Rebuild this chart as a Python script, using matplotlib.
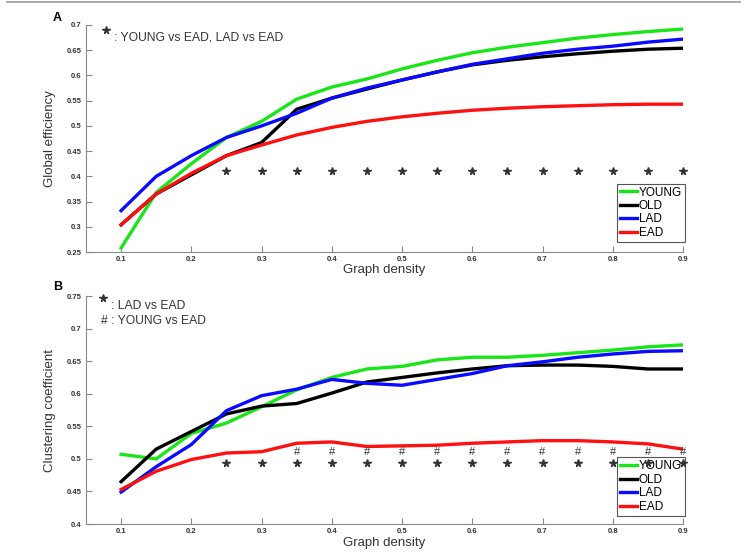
import matplotlib
matplotlib.use("Agg")
import matplotlib.pyplot as plt

plt.rcParams["font.family"] = ["Liberation Sans", "DejaVu Sans"]

density = [0.1, 0.15, 0.2, 0.25, 0.3, 0.35, 0.4, 0.45, 0.5,
           0.55, 0.6, 0.65, 0.7, 0.75, 0.8, 0.85, 0.9]
groups = ["YOUNG", "OLD", "LAD", "EAD"]
colors = ["#19e619", "black", "#0a0aff", "#ff1010"]

# panel A - global efficiency
eff_young = [0.258, 0.368, 0.425, 0.477, 0.509, 0.553, 0.577, 0.593, 0.613,
             0.630, 0.645, 0.656, 0.665, 0.674, 0.681, 0.687, 0.692]
eff_old = [0.304, 0.365, 0.403, 0.441, 0.467, 0.533, 0.555, 0.573, 0.591,
           0.607, 0.621, 0.630, 0.637, 0.643, 0.648, 0.652, 0.654]
eff_lad = [0.332, 0.400, 0.441, 0.477, 0.500, 0.525, 0.555, 0.575, 0.591,
           0.607, 0.622, 0.633, 0.644, 0.652, 0.658, 0.666, 0.672]
eff_ead = [0.304, 0.365, 0.406, 0.441, 0.462, 0.482, 0.497, 0.509, 0.518,
           0.525, 0.531, 0.535, 0.538, 0.540, 0.542, 0.543, 0.543]

# panel B - clustering coefficient
clu_young = [0.507, 0.500, 0.539, 0.555, 0.580, 0.606, 0.625, 0.638, 0.642,
             0.652, 0.656, 0.656, 0.659, 0.663, 0.667, 0.672, 0.675]
clu_old = [0.465, 0.515, 0.542, 0.569, 0.581, 0.585, 0.601, 0.618, 0.625,
           0.632, 0.638, 0.643, 0.644, 0.644, 0.642, 0.638, 0.638]
clu_lad = [0.449, 0.488, 0.522, 0.574, 0.597, 0.607, 0.622, 0.616, 0.613,
           0.622, 0.631, 0.643, 0.649, 0.656, 0.661, 0.665, 0.666]
clu_ead = [0.453, 0.481, 0.499, 0.509, 0.511, 0.524, 0.526, 0.519, 0.520,
           0.521, 0.524, 0.526, 0.528, 0.528, 0.526, 0.523, 0.515]

# significance marks
star_x = [0.25, 0.3, 0.35, 0.4, 0.45, 0.5, 0.55, 0.6, 0.65, 0.7, 0.75, 0.8, 0.85, 0.9]
star_y_a = 0.411
star_y_b = 0.493
hash_x = [0.35, 0.4, 0.45, 0.5, 0.55, 0.6, 0.65, 0.7, 0.75, 0.8, 0.85, 0.9]
hash_y_b = 0.510

fig = plt.figure(figsize=(7.47, 5.53), dpi=100)
fig.add_artist(plt.Line2D([0.01, 0.99], [0.996, 0.996], color="#999999", lw=1.2))

axA = fig.add_axes([0.1151, 0.5443, 0.7992, 0.4105])
axB = fig.add_axes([0.1151, 0.0524, 0.7992, 0.4123])


def style(ax, ylim, yticks, ylabel):
    ax.set_xlim(0.05, 0.9)
    ax.set_ylim(*ylim)
    ax.set_xticks([0.1, 0.2, 0.3, 0.4, 0.5, 0.6, 0.7, 0.8, 0.9])
    ax.set_yticks(yticks)
    ax.set_xticklabels([f"{t:g}" for t in ax.get_xticks()])
    ax.set_yticklabels([f"{t:g}" for t in yticks])
    for s in ["top", "right"]:
        ax.spines[s].set_visible(False)
    for s in ["left", "bottom"]:
        ax.spines[s].set_color("#888888")
    ax.tick_params(direction="in", length=4, color="#888888", labelsize=5.5, pad=3)
    for lab in ax.get_xticklabels() + ax.get_yticklabels():
        lab.set_fontweight("bold")
        lab.set_color("#333333")
    ax.set_xlabel("Graph density", fontsize=9.5, color="#333333", labelpad=0)
    ax.xaxis.set_label_coords(0.5, -0.055)
    ax.set_ylabel(ylabel, fontsize=9.5, color="#333333", labelpad=8)


def add_legend(ax, y0):
    leg = ax.legend(loc="lower right", bbox_to_anchor=(1.003, y0), fontsize=8.5,
                    handlelength=1.5, handletextpad=0.1, borderpad=0.25,
                    labelspacing=0.12, fancybox=False, framealpha=1, borderaxespad=0)
    leg.get_frame().set_edgecolor("#555555")
    leg.get_frame().set_linewidth(0.8)
    leg.set_zorder(2.5)


lw = 2.4
for vals, c, g in zip([eff_young, eff_old, eff_lad, eff_ead], colors, groups):
    axA.plot(density, vals, color=c, lw=lw, label=g)
axA.plot(star_x, [star_y_a] * len(star_x), ls="none", marker="*", ms=5.5,
         color="#333333", zorder=4, clip_on=False)
style(axA, (0.25, 0.7), [0.25, 0.3, 0.35, 0.4, 0.45, 0.5, 0.55, 0.6, 0.65, 0.7],
      "Global efficiency")
axA.plot([0.078], [0.69], ls="none", marker="*", ms=5.5, color="#333333")
axA.text(0.09, 0.676, ": YOUNG vs EAD, LAD vs EAD", fontsize=8.7, color="#333333",
         va="center")
add_legend(axA, 0.045)
fig.text(0.071, 0.967, "A", fontsize=9, fontweight="bold", va="center")

for vals, c, g in zip([clu_young, clu_old, clu_lad, clu_ead], colors, groups):
    axB.plot(density, vals, color=c, lw=lw, label=g)
axB.plot(star_x, [star_y_b] * len(star_x), ls="none", marker="*", ms=5.5,
         color="#333333", zorder=4, clip_on=False)
for hx in hash_x:
    axB.text(hx, hash_y_b, "#", fontsize=8, color="#333333", ha="center",
             va="center", zorder=4)
style(axB, (0.4, 0.75), [0.4, 0.45, 0.5, 0.55, 0.6, 0.65, 0.7, 0.75],
      "Clustering coefficient")
axB.plot([0.074], [0.747], ls="none", marker="*", ms=5.5, color="#333333",
         clip_on=False)
axB.text(0.086, 0.734, ": LAD vs EAD", fontsize=8.7, color="#333333", va="center")
axB.text(0.071, 0.712, "# : YOUNG vs EAD", fontsize=8.7, color="#333333", va="center")
add_legend(axB, 0.037)
fig.text(0.071, 0.481, "B", fontsize=9, fontweight="bold", va="center")

fig.savefig("out.png", dpi=100)
